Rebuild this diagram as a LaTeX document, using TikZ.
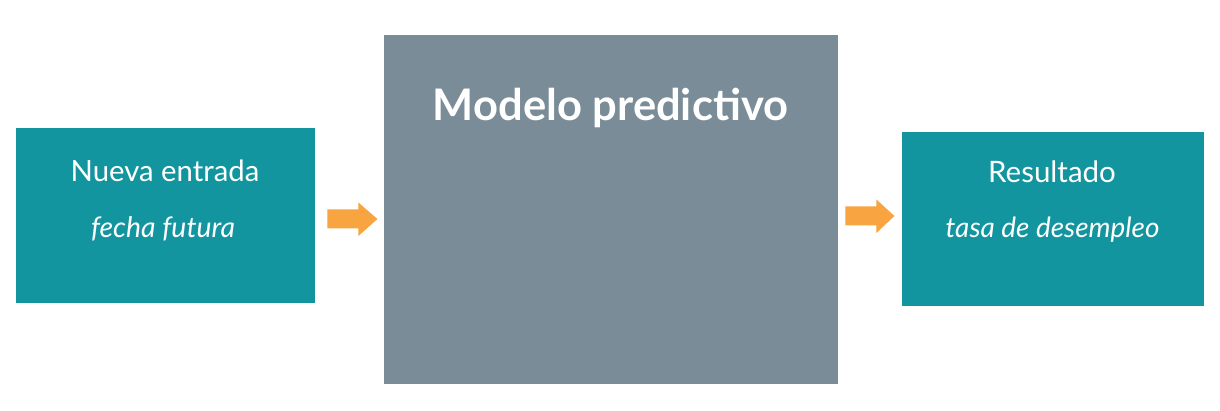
\documentclass[tikz,border=0pt]{standalone}
\usepackage{fontspec}
\setmainfont{Lato}
\usetikzlibrary{calc}
\definecolor{tealbox}{HTML}{12959F}
\definecolor{graybox}{HTML}{7A8C97}
\definecolor{arroworange}{HTML}{F8A440}
\tikzset{
  box/.style={draw=none, inner sep=0pt, anchor=north west},
  tealstyle/.style={box, fill=tealbox},
  graystyle/.style={box, fill=graybox},
  lbl/.style={text=white, anchor=base, inner sep=0pt},
  blockarrow/.style={fill=arroworange},
}
\newcommand{\myblockarrow}[3]{% start coordinate, length, head length
  \fill[blockarrow] ($#1+(0,-9.5)$) -- ++(#2-#3,0) -- ++(0,-7) -- ($#1+(#2,0)$)
     -- ($#1+(#2-#3,17)$) -- ++(0,-7.5) -- ($#1+(0,9.5)$) -- cycle;}
\begin{document}
\begin{tikzpicture}[x=1pt,y=-1pt]
\useasboundingbox[fill=white] (0,0) rectangle (1220,411);
\node[tealstyle, minimum width=299pt, minimum height=175pt] (inp) at (16,128) {};
\node[graystyle, minimum width=454pt, minimum height=349pt] (model) at (384,35) {};
\node[tealstyle, minimum width=302pt, minimum height=174pt] (out) at (902,132) {};
\node[lbl, font=\fontsize{29.3}{34}\selectfont] (t1) at (165,182) {Nueva entrada};
\node[lbl, font=\fontsize{28.4}{34}\selectfont\itshape] (t2) at (163,238) {fecha futura};
\node[lbl, font=\fontsize{43.5}{50}\selectfont\bfseries] (t3) at (610.5,121) {Modelo predictivo};
\node[lbl, font=\fontsize{29.5}{34}\selectfont] (t4) at (1052,183) {Resultado};
\node[lbl, font=\fontsize{27.9}{34}\selectfont\itshape] (t5) at (1052.5,238) {tasa de desempleo};
\coordinate (a1) at ($(inp.east |- 0,219)+(12,0)$);
\coordinate (a2) at ($(model.east |- 0,216)+(7,0)$);
\myblockarrow{(a1)}{50}{19}
\myblockarrow{(a2)}{49}{18}
\end{tikzpicture}
\end{document}
